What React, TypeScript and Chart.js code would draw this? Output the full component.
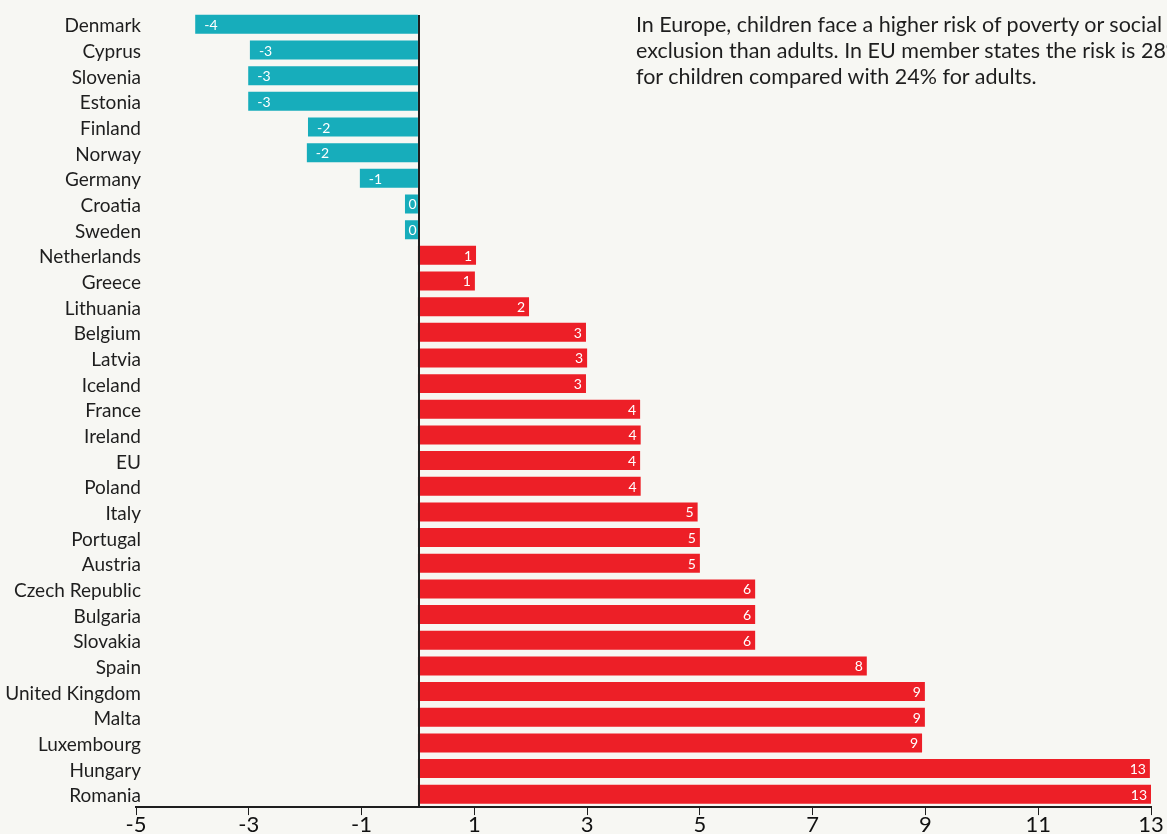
import React, { useEffect, useRef } from "react";
import { Chart, registerables } from "chart.js";

Chart.register(...registerables);

const countries = [
  "Denmark", "Cyprus", "Slovenia", "Estonia", "Finland", "Norway", "Germany", "Croatia", "Sweden",
  "Netherlands", "Greece", "Lithuania", "Belgium", "Latvia", "Iceland", "France", "Ireland", "EU",
  "Poland", "Italy", "Portugal", "Austria", "Czech Republic", "Bulgaria", "Slovakia", "Spain",
  "United Kingdom", "Malta", "Luxembourg", "Hungary", "Romania",
];

const gapValues = [
  -3.95, -2.98, -3.01, -3.01, -1.95, -1.97, -1.03, -0.23, -0.23,
  1.03, 1.01, 1.97, 2.98, 3.0, 2.98, 3.94, 3.95, 3.94,
  3.95, 4.96, 5.0, 5.0, 5.98, 5.98, 5.98, 7.96,
  8.99, 8.99, 8.94, 12.98, 13.0,
];

const xTicks = [-5, -3, -1, 1, 3, 5, 7, 9, 11, 13];

const noteLines = [
  "In Europe, children face a higher risk of poverty or social",
  "exclusion than adults. In EU member states the risk is 28%",
  "for children compared with 24% for adults.",
];

const TEAL = "#17adbb";
const RED = "#ed1f27";
const BG = "#f7f7f3";
const INK = "#1e1e1e";
const FONT = "Lato, 'Open Sans', sans-serif";

const overlayPlugin = {
  id: "overlay",
  afterDraw(chart: any) {
    const { ctx, chartArea, scales } = chart;
    const xs = scales.x;
    ctx.save();
    // zero line
    ctx.fillStyle = INK;
    const zx = Math.round(xs.getPixelForValue(0));
    const top = Math.round(chartArea.top) + 3;
    ctx.fillRect(zx, top, 2, Math.round(chartArea.bottom) - top);
    // category labels
    ctx.font = `19px ${FONT}`;
    ctx.textAlign = "right";
    ctx.textBaseline = "middle";
    const meta = chart.getDatasetMeta(0);
    meta.data.forEach((bar: any, i: number) => {
      ctx.fillText(countries[i], 141, bar.y + 2);
    });
    // value labels
    ctx.fillStyle = "#ffffff";
    ctx.font = `14px ${FONT}`;
    meta.data.forEach((bar: any, i: number) => {
      const v = gapValues[i];
      const r = Math.round(v);
      const label = String(r === 0 ? 0 : r);
      const left = Math.min(bar.x, bar.base);
      const right = Math.max(bar.x, bar.base);
      if (v >= 0) {
        ctx.textAlign = "right";
        ctx.fillText(label, right - 4, bar.y + 1);
      } else if (right - left < 30) {
        ctx.textAlign = "center";
        ctx.fillText(label, (left + right) / 2 + 1, bar.y + 1);
      } else {
        ctx.textAlign = "left";
        ctx.fillText(label, left + 9, bar.y + 1);
      }
    });
    ctx.restore();
  },
};

export default function App() {
  const canvasRef = useRef<HTMLCanvasElement | null>(null);

  useEffect(() => {
    if (!canvasRef.current) return;
    const chart = new Chart(canvasRef.current, {
      type: "bar",
      data: {
        labels: countries,
        datasets: [
          {
            data: gapValues,
            backgroundColor: gapValues.map((v) => (v < 0 ? TEAL : RED)),
            borderWidth: 0,
            categoryPercentage: 1,
            barPercentage: 0.74,
          },
        ],
      },
      options: {
        indexAxis: "y",
        animation: false,
        responsive: false,
        maintainAspectRatio: false,
        layout: { padding: { top: 11.5, right: 16, bottom: 0, left: 0 } },
        plugins: {
          legend: { display: false },
          tooltip: { enabled: false },
        },
        scales: {
          x: {
            type: "linear",
            min: -5,
            max: 13,
            afterBuildTicks: (scale: any) => {
              scale.ticks = xTicks.map((v) => ({ value: v }));
            },
            border: { display: true, color: INK, width: 2 },
            grid: {
              display: true,
              drawOnChartArea: false,
              drawTicks: true,
              tickLength: 8,
              tickColor: INK,
              tickWidth: 1,
            },
            ticks: {
              color: "#111111",
              font: { family: FONT, size: 22, lineHeight: 0.86 },
              padding: 0,
              maxRotation: 0,
              autoSkip: false,
            },
          },
          y: {
            afterFit: (scale: any) => {
              scale.width = 136;
            },
            border: { display: false },
            grid: { display: false, drawTicks: false },
            ticks: { display: false },
          },
        },
      },
      plugins: [overlayPlugin],
    });
    return () => chart.destroy();
  }, []);

  return (
    <div
      style={{
        position: "fixed",
        left: 0,
        top: 0,
        width: 1167,
        height: 834,
        background: BG,
        overflow: "hidden",
      }}
    >
      <canvas ref={canvasRef} width={1167} height={834} style={{ display: "block" }} />
      <div
        style={{
          position: "absolute",
          left: 636,
          top: 11,
          fontFamily: FONT,
          fontSize: 21.5,
          lineHeight: "26px",
          color: INK,
          whiteSpace: "nowrap",
        }}
      >
        {noteLines.map((t, i) => (
          <div key={i}>{t}</div>
        ))}
      </div>
    </div>
  );
}
